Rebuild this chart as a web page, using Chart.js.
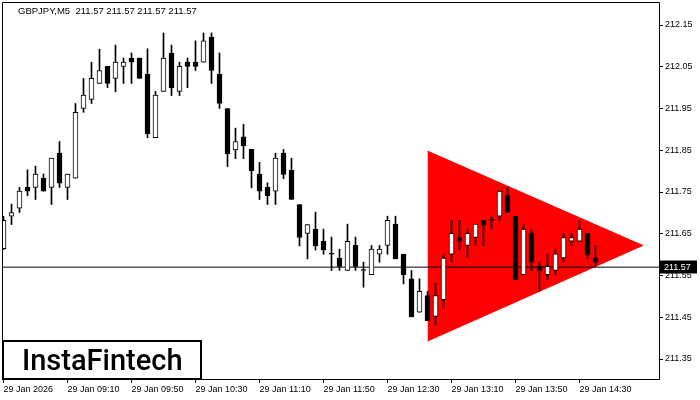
<!DOCTYPE html>
<html>
<head>
<meta charset="utf-8">
<script src="https://cdn.jsdelivr.net/npm/chart.js@4.4.1/dist/chart.umd.min.js"></script>
<style>
html,body{margin:0;padding:0;background:#ffffff;}
#wrap{width:700px;height:400px;position:relative;}
</style>
</head>
<body>
<div id="wrap"><canvas id="c" width="700" height="400"></canvas></div>
<script>
// ---- data ----
const symbolTitle = 'GBPJPY,M5  211.57 211.57 211.57 211.57';
const opens  = [211.614,211.692,211.711,211.761,211.761,211.783,211.761,211.843,211.761,211.783,
                211.950,211.972,212.010,212.051,212.022,212.051,212.071,212.071,212.032,211.880,
                211.991,212.083,211.991,212.061,212.061,212.061,212.121,212.032,211.950,211.851,
                211.882,211.852,211.793,211.761,211.752,211.843,211.802,211.720,211.651,211.661,
                211.632,211.601,211.592,211.562,211.622,211.562,211.552,211.601,211.622,211.673,
                211.601,211.542,211.462,211.502,211.452,211.492,211.601,211.641,211.622,211.641,
                211.682,211.682,211.692,211.742,211.692,211.552,211.651,211.572,211.552,211.562,
                211.592,211.632,211.632,211.651,211.592];
const highs  = [211.692,211.721,211.761,211.803,211.812,211.793,211.831,211.871,211.793,211.962,
                212.022,212.061,212.092,212.051,212.102,212.071,212.083,212.071,212.093,211.991,
                212.131,212.102,212.061,212.071,212.112,212.131,212.131,212.083,211.950,211.903,
                211.912,211.852,211.821,211.772,211.843,211.852,211.831,211.720,211.672,211.702,
                211.661,211.642,211.613,211.673,211.642,211.582,211.622,211.622,211.692,211.692,
                211.601,211.562,211.542,211.512,211.532,211.602,211.682,211.682,211.661,211.673,
                211.682,211.692,211.752,211.762,211.692,211.673,211.661,211.582,211.602,211.613,
                211.651,211.651,211.682,211.651,211.622];
const lows   = [211.612,211.672,211.701,211.741,211.732,211.752,211.720,211.761,211.732,211.783,
                211.941,211.962,212.010,212.000,211.990,212.010,212.010,212.022,211.880,211.880,
                211.991,211.981,211.981,212.000,212.041,212.061,212.010,211.950,211.811,211.830,
                211.830,211.760,211.732,211.720,211.720,211.782,211.732,211.621,211.590,211.611,
                211.601,211.562,211.562,211.562,211.562,211.522,211.552,211.582,211.601,211.590,
                211.530,211.451,211.462,211.442,211.432,211.472,211.582,211.612,211.592,211.622,
                211.621,211.661,211.681,211.701,211.540,211.552,211.562,211.512,211.540,211.552,
                211.582,211.621,211.632,211.590,211.572];
const closes = [211.682,211.701,211.752,211.752,211.793,211.752,211.831,211.771,211.793,211.941,
                211.982,212.022,212.041,212.010,212.061,212.061,212.061,212.022,211.890,211.982,
                212.071,212.000,212.051,212.051,212.051,212.112,212.041,211.962,211.842,211.871,
                211.861,211.801,211.752,211.741,211.831,211.792,211.732,211.641,211.672,211.621,
                211.611,211.601,211.572,211.632,211.572,211.562,211.613,211.613,211.682,211.590,
                211.552,211.451,211.512,211.442,211.502,211.592,211.651,211.632,211.651,211.673,
                211.672,211.682,211.752,211.701,211.540,211.661,211.582,211.562,211.572,211.602,
                211.641,211.641,211.661,211.600,211.582];
const currentPrice = 211.57;
const yTickValues = [211.35, 211.45, 211.55, 211.65, 211.75, 211.85, 211.95, 212.05, 212.15];
const xTickIndex  = [0, 8, 16, 24, 32, 40, 48, 56, 64, 72];
const xTickLabels = ['29 Jan 2026','29 Jan 09:10','29 Jan 09:50','29 Jan 10:30','29 Jan 11:10',
                     '29 Jan 11:50','29 Jan 12:30','29 Jan 13:10','29 Jan 13:50','29 Jan 14:30'];
// bearish pennant (triangle) vertices: [candle index, price]
const triangleUpper = [[53.0, 211.848], [79.9, 211.622]];
const triangleLower = [[53.0, 211.393], [79.9, 211.622]];

// ---- view ----
const xMin = -0.0625, xMax = 81.9375;
const yMin = 211.3021, yMax = 212.2027;
const FONT = 'Liberation Sans';

const bodyData = opens.map((o, i) => ({x: i, y: [Math.min(o, closes[i]), Math.max(o, closes[i])]}));
const bodyColors = opens.map((o, i) => closes[i] > o ? '#ffffff' : '#000000');
const wickData = lows.map((l, i) => ({x: i, y: [l, highs[i]]}));

function zeroPad(s){ s.paddingLeft = 0; s.paddingRight = 0; s.paddingTop = 0; s.paddingBottom = 0; }

const overlay = {
  id: 'overlay',
  afterDraw(chart) {
    const ctx = chart.ctx;
    const a = chart.chartArea;
    ctx.save();
    // frame
    ctx.strokeStyle = '#000'; ctx.lineWidth = 1;
    ctx.beginPath();
    ctx.moveTo(a.left - 0.5, a.top - 0.5);
    ctx.lineTo(a.right + 0.5, a.top - 0.5);
    ctx.lineTo(a.right + 0.5, a.bottom + 0.5);
    ctx.lineTo(a.left - 0.5, a.bottom + 0.5);
    ctx.closePath();
    ctx.stroke();
    // title
    ctx.fillStyle = '#000';
    ctx.font = '9.5px "' + FONT + '"';
    ctx.textBaseline = 'middle';
    ctx.textAlign = 'left';
    ctx.fillText(symbolTitle, 18, 11);
    // current price label
    ctx.font = '9px "' + FONT + '"';
    const py = chart.scales.y.getPixelForValue(currentPrice);
    ctx.fillStyle = '#000';
    ctx.fillRect(a.right + 1, Math.round(py) - 6.5, 37, 13);
    ctx.fillStyle = '#fff';
    ctx.fillText(currentPrice.toFixed(2), a.right + 5, Math.round(py) + 0.5);
    // logo
    ctx.fillStyle = '#fff';
    ctx.fillRect(3, 341, 198, 38);
    ctx.strokeStyle = '#000'; ctx.lineWidth = 2;
    ctx.strokeRect(3, 341, 198, 38);
    ctx.fillStyle = '#000';
    ctx.font = '500 29px Roboto';
    ctx.textBaseline = 'alphabetic';
    ctx.fillText('InstaFintech', 22, 370);
    ctx.restore();
  }
};

new Chart(document.getElementById('c'), {
  type: 'bar',
  data: {
    datasets: [
      {
        type: 'bar', data: bodyData, backgroundColor: bodyColors, borderColor: '#000',
        borderWidth: 1, borderSkipped: false, barThickness: 5, minBarLength: 1, grouped: false
      },
      {
        type: 'bar', data: wickData, backgroundColor: '#000', borderWidth: 0,
        barThickness: 1, grouped: false
      },
      {
        type: 'line', data: [{x: xMin, y: currentPrice}, {x: xMax, y: currentPrice}],
        borderColor: '#000', borderWidth: 1, pointRadius: 0, fill: false
      },
      {
        type: 'line', data: triangleUpper.map(p => ({x: p[0], y: p[1]})),
        borderColor: '#ff0000', borderWidth: 1, pointRadius: 0, fill: false
      },
      {
        type: 'line', data: triangleLower.map(p => ({x: p[0], y: p[1]})),
        borderColor: '#ff0000', borderWidth: 1, pointRadius: 0, fill: '-1',
        backgroundColor: '#ff0000'
      }
    ]
  },
  options: {
    responsive: false,
    animation: false,
    devicePixelRatio: 1,
    events: [],
    layout: {padding: {left: 3, top: 3, right: 0, bottom: 0}},
    plugins: {legend: {display: false}, tooltip: {enabled: false}, title: {display: false}},
    scales: {
      x: {
        type: 'linear', position: 'bottom', min: xMin, max: xMax, offset: false,
        grid: {drawOnChartArea: false, drawTicks: true, tickLength: 4, color: '#000', offset: false},
        border: {display: false},
        ticks: {
          color: '#000', autoSkip: false, maxRotation: 0, minRotation: 0, align: 'start', padding: 1,
          font: {family: FONT, size: 9},
          callback: (v, i) => xTickLabels[i] !== undefined ? xTickLabels[i] : ''
        },
        afterBuildTicks: s => { s.ticks = xTickIndex.map(v => ({value: v})); },
        afterFit: s => { s.height = 21; zeroPad(s); }
      },
      y: {
        type: 'linear', position: 'right', min: yMin, max: yMax,
        grid: {drawOnChartArea: false, drawTicks: true, tickLength: 4, color: '#000'},
        border: {display: false},
        ticks: {
          color: '#000', padding: 2, font: {family: FONT, size: 9},
          callback: v => Number(v).toFixed(2)
        },
        afterBuildTicks: s => { s.ticks = yTickValues.map(v => ({value: v})); },
        afterFit: s => { s.width = 41; zeroPad(s); }
      }
    }
  },
  plugins: [overlay]
});
</script>
</body>
</html>
